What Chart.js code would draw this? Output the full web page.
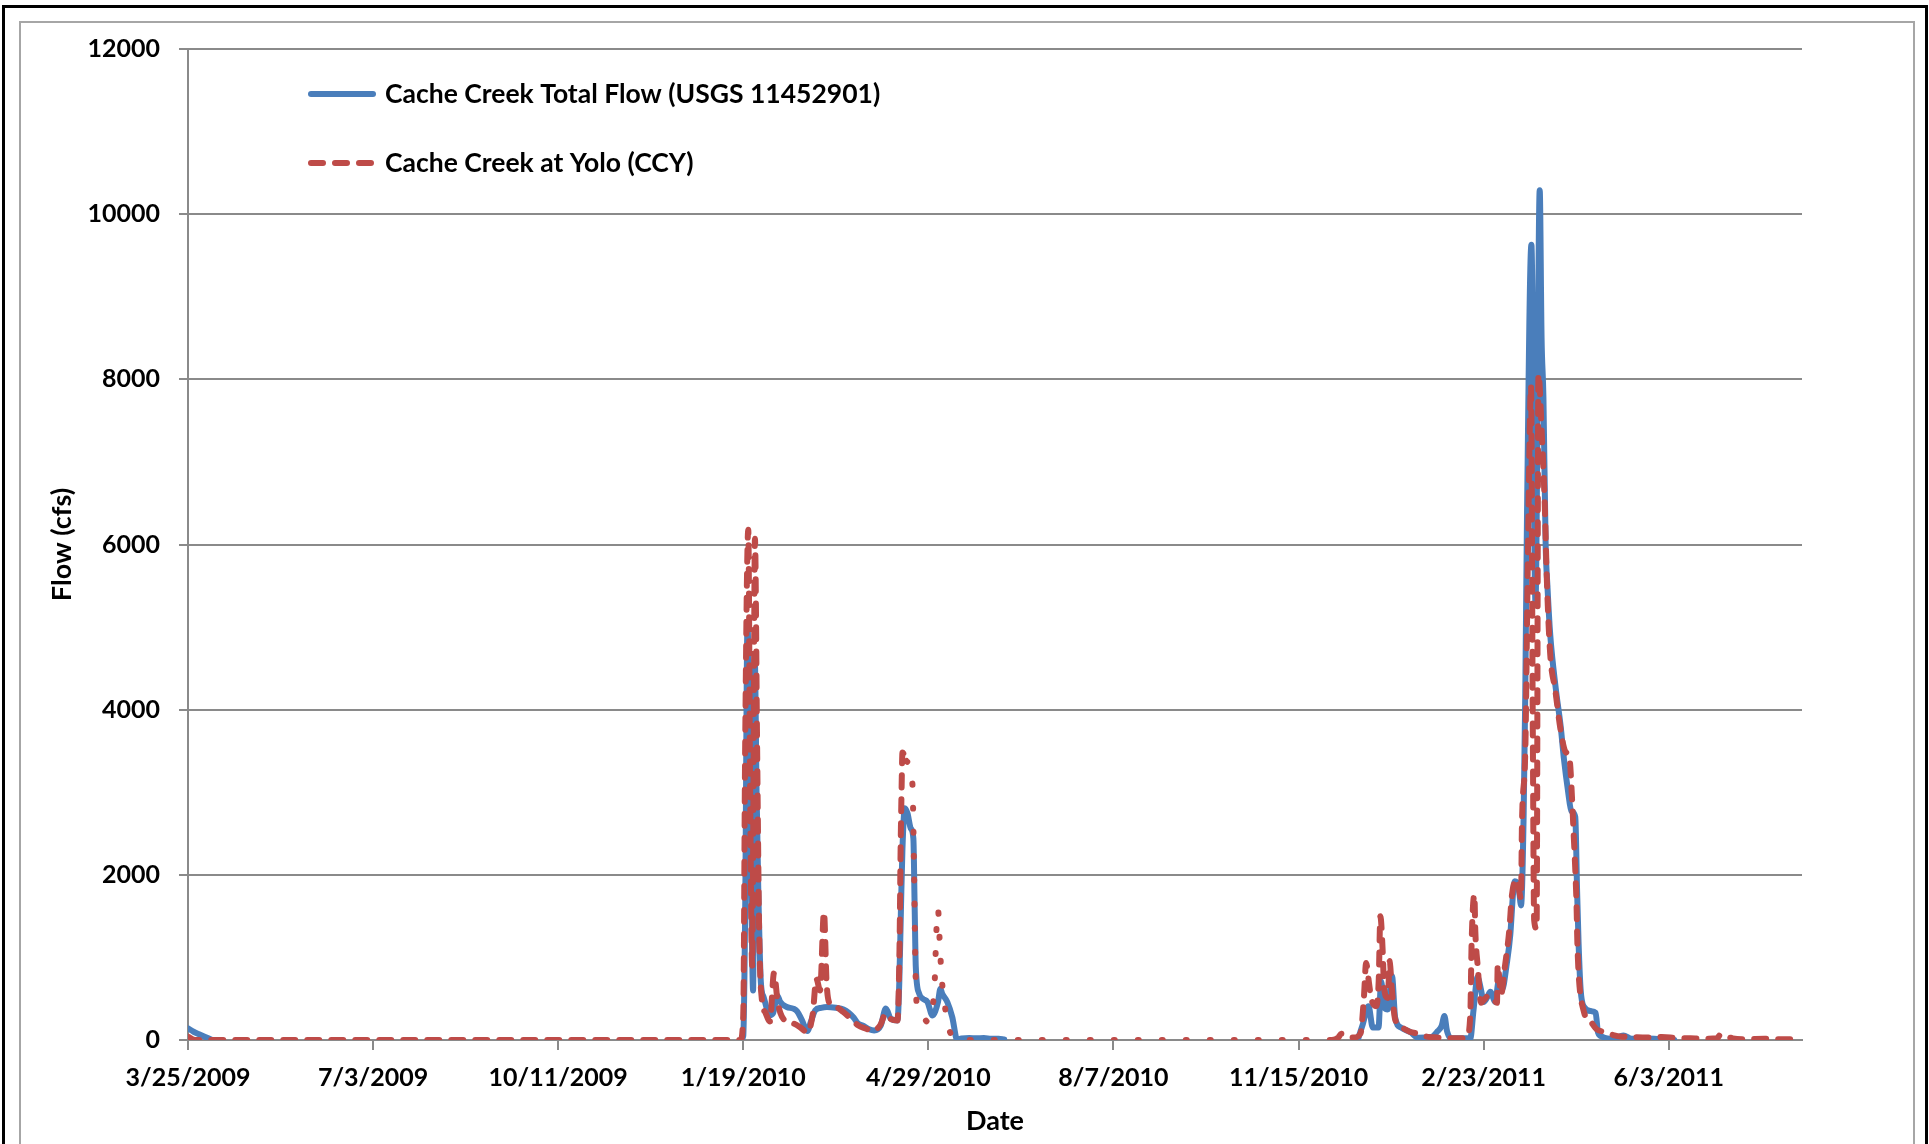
<!DOCTYPE html>
<html lang="en">
<head>
<meta charset="utf-8">
<title>Cache Creek Flow</title>
<script src="https://cdn.jsdelivr.net/npm/chart.js@4.4.1/dist/chart.umd.min.js"></script>
<style>
  html, body { margin: 0; padding: 0; background: #fff; overflow: hidden; }
  #wrap { position: relative; width: 1929px; height: 1144px; overflow: hidden; }
  #outerFrame { position: absolute; left: 2px; top: 5px; width: 1920px; height: 1300px; border: 3px solid #000; }
  #innerFrame { position: absolute; left: 19px; top: 21px; width: 1892px; height: 1300px; border: 2px solid #a6a6a6; }
  #chart { position: absolute; left: 0; top: 0; }
</style>
</head>
<body>
<div id="wrap">
  <div id="outerFrame"></div>
  <div id="innerFrame"></div>
  <canvas id="chart" width="1929" height="1144"></canvas>
</div>
<script>
// ==========================================
// DATA (x = days since 3/25/2009, y = flow in cfs)
// ==========================================
const xTickLabels = ['3/25/2009', '7/3/2009', '10/11/2009', '1/19/2010', '4/29/2010',
                     '8/7/2010', '11/15/2010', '2/23/2011', '6/3/2011'];

// Cache Creek Total Flow (USGS 11452901); null = no data
const usgsDays = [0, 3, 6, 9, 13, 14,
  298.5, 300, 301, 302.3, 303.3, 304.5, 305.3, 306.2, 307.2, 308.1, 309.5, 311, 314.4, 316, 318.4, 320,
  323.5, 327, 329, 331.5, 334.7, 336.5, 338.9, 342, 345.2, 350, 354.2, 357, 359.7, 362, 365, 368, 370.7,
  374.3, 377, 379.7, 383.3, 384.3, 385.2, 386, 387.3, 388.7, 390.5, 391.9, 392.6, 393.2, 395, 397, 399.5,
  402.2, 405.2, 406.5, 407.5, 410.2, 412.9, 415.6, 418, 422, 426, 430, 434, 438, 441, 441.5,
  632, 634.7, 637.8, 640.1, 643.2, 644.6, 646.4, 648.2, 650.5, 652.2, 655.4, 660.8, 664.4, 671.6, 675.2,
  677.3, 678.8, 680.2, 682.4, 692.8, 694.5, 696.7, 698.6, 700, 702, 703.6, 706.3, 708.1, 709.9, 712.6,
  714.4, 715.9, 716.8, 718.9, 720.2, 721.6, 722.5, 723.4, 725.8, 728, 730.3, 731.3, 732.3, 733.5, 734.5,
  736, 739, 741.6, 743.4, 745.5, 747.4, 749.5, 750.5, 751.3, 752.4, 754.2, 758, 760.5, 761.8, 764, 766.8,
  770, 775.5, 780, 786, 795, 803];
const usgsFlow = [140, 100, 70, 40, 0, null,
  0, 50, 1500, 5040, 3500, 1500, 600, 4610, 3000, 1840, 700, 520, 300, 320, 540, 460,
  400, 380, 350, 250, 110, 220, 360, 390, 400, 390, 370, 330, 270, 200, 170, 130, 115,
  175, 380, 257, 237, 700, 1600, 2317, 2807, 2746, 2562, 2440, 1600, 890, 563, 500, 461,
  298, 461, 620, 560, 461, 277, 0, 20, 25, 20, 25, 15, 15, 5, null,
  0, 190, 410, 150, 150, 712, 390, 370, 773, 270, 150, 90, 28, 36, 108,
  170, 290, 108, 20, 20, 355, 760, 606, 460, 520, 585, 460, 710, 606, 940,
  1275, 1777, 1923, 1860, 1630, 2700, 4200, 6300, 9630, 5300, 10290, 8500, 7780, 6000, 5480,
  4900, 4250, 3800, 3400, 3030, 2770, 2700, 1800, 1169, 612, 403, 350, 330, 90, 40, 20,
  15, 55, 15, 20, 10, 0];

// Cache Creek at Yolo (CCY)
const ccyDays = [0, 4, 298.5, 300, 301, 302.7, 303.7, 304.8, 305.5, 306.3, 307.5, 308.6, 310, 312, 314.4,
  316.6, 318.5, 320, 323.5, 327, 331, 334.7, 337.5, 339.5, 341.5, 343.6, 345, 346.5, 350, 354, 358, 362,
  366, 370, 374, 377, 380, 383.3, 384.4, 385, 385.5, 386, 388.2, 391.4, 392.3, 393, 393.7, 396.5, 399.8,
  402.3, 403.4, 404.3, 405.2, 406.3, 407.2, 408.4, 410.2, 415.6, 618, 621.5, 623, 626, 630, 633.5,
  635.3, 636.5, 638, 639.2, 641.9, 643.3, 644.2, 645.5, 646.2, 648.2, 649.3, 650.2, 652.2, 656, 660,
  666.2, 668, 675, 683, 688, 691, 692.8, 693.5, 695, 695.5, 696.8, 698.6, 700, 702.2, 704, 707.2, 707.6,
  709.4, 711.5, 713.8, 715.3, 718, 720.2, 720.7, 722.5, 724, 725.6, 726.5, 727.3, 728.6, 729.6, 731.5,
  733, 734.2, 736, 738.7, 741.4, 744, 746.5, 747.7, 748.6, 749.5, 750.2, 750.6, 751.4, 754, 758, 761,
  765, 770, 775, 780.8, 788, 796.2, 804, 811.7, 820, 826, 828, 831, 834.6, 842, 851.8, 860, 872];
const ccyFlow = [40, 0, 0, 300, 3500, 6180, 3000, 900, 3000, 6070, 3500, 1300, 500, 330, 225,
  810, 480, 330, 220, 200, 150, 90, 310, 740, 600, 1550, 700, 450, 400, 340, 260, 180,
  140, 110, 180, 320, 250, 237, 1100, 2300, 3000, 3480, 3378, 3093, 2000, 900, 432, 300, 216,
  400, 694, 1300, 1580, 1100, 750, 510, 216, 0, 0, 30, 75, 40, 30, 80,
  510, 933, 700, 510, 410, 712, 1497, 1054, 632, 510, 954, 672, 250, 150, 100,
  68, 48, 30, 20, 20, 40, 310, 1175, 1758, 1316, 893, 450, 480, 530, 530, 450, 905,
  550, 893, 1316, 1756, 1944, 1714, 2613, 3500, 6000, 7920, 4000, 1450, 1350, 8060, 7300,
  6500, 5540, 4660, 4240, 3780, 3500, 3386, 2950, 2510, 2070, 1630, 1210, 773, 355, 220, 130,
  100, 60, 40, 35, 30, 35, 25, 20, 15, 20, 65, 45, 20, 10, 15, 10, 10];

const xMax = 872;
const yMax = 12000;
const yStep = 2000;
const xStep = 100;

// ==========================================
// CHART
// ==========================================
const BLUE = '#4a7ebb';
const RED = '#be4b48';
const GRID = '#8a8a8a';
const FAMILY = 'Lato, "Open Sans", sans-serif';

Chart.defaults.font.family = FAMILY;
Chart.defaults.font.size = 25;
Chart.defaults.font.weight = 'bold';
Chart.defaults.color = '#000';

function toPoints(days, flow) {
    return days.map((d, i) => ({ x: d, y: flow[i] }));
}

// stretches where the CCY line shows as round dots instead of dashes
function dotted(x) {
    return x >= 387 && x < 618;
}

const legendPlugin = {
    id: 'insideLegend',
    afterDraw(chart) {
        const ctx = chart.ctx;
        const area = chart.chartArea;
        const rows = [chart.data.datasets[1], chart.data.datasets[0]];
        rows.forEach((ds, i) => {
            const y = area.top + 45 + i * 69;
            const x0 = area.left + 123;
            ctx.save();
            ctx.strokeStyle = ds.borderColor;
            ctx.lineWidth = ds.borderWidth;
            ctx.lineCap = 'round';
            ctx.setLineDash(ds.borderDash || []);
            ctx.beginPath();
            ctx.moveTo(x0, y);
            ctx.lineTo(x0 + 62, y);
            ctx.stroke();
            ctx.setLineDash([]);
            ctx.fillStyle = '#000';
            ctx.font = 'bold 26.5px ' + FAMILY;
            ctx.textBaseline = 'middle';
            ctx.fillText(ds.label, x0 + 74, y);
            ctx.restore();
        });
    }
};

new Chart(document.getElementById('chart'), {
    type: 'line',
    data: {
        datasets: [
            {
                label: 'Cache Creek at Yolo (CCY)',
                data: toPoints(ccyDays, ccyFlow),
                borderColor: RED,
                borderWidth: 6,
                borderDash: [12, 12],
                borderCapStyle: 'round',
                borderJoinStyle: 'round',
                cubicInterpolationMode: 'monotone',
                tension: 0.4,
                pointRadius: 0,
                order: 1,
                segment: {
                    borderDash: c => dotted(c.p0.parsed.x) ? [1, 23] : undefined
                }
            },
            {
                label: 'Cache Creek Total Flow (USGS 11452901)',
                data: toPoints(usgsDays, usgsFlow),
                borderColor: BLUE,
                borderWidth: 6,
                borderCapStyle: 'round',
                borderJoinStyle: 'round',
                cubicInterpolationMode: 'monotone',
                tension: 0.4,
                pointRadius: 0,
                order: 2
            }
        ]
    },
    options: {
        responsive: false,
        animation: false,
        events: [],
        layout: { padding: { left: 0, top: 49, right: 127, bottom: 0 } },
        plugins: {
            legend: { display: false },
            tooltip: { enabled: false }
        },
        scales: {
            x: {
                type: 'linear',
                min: 0,
                max: xMax,
                grid: { drawOnChartArea: false, drawTicks: true, tickLength: 10, color: GRID, lineWidth: 2 },
                border: { display: true, color: GRID, width: 2 },
                ticks: {
                    stepSize: xStep,
                    includeBounds: false,
                    autoSkip: false,
                    maxRotation: 0,
                    padding: 13,
                    callback: v => xTickLabels[Math.round(v / xStep)] || ''
                },
                title: { display: true, text: 'Date', font: { size: 27 }, padding: { top: 0, bottom: 7 } },
                afterFit: s => { s.height = 104; }
            },
            y: {
                min: 0,
                max: yMax,
                grid: { color: GRID, lineWidth: 2, tickLength: 9 },
                border: { display: true, color: GRID, width: 2 },
                ticks: {
                    stepSize: yStep,
                    padding: 19,
                    callback: v => String(v)
                },
                title: { display: true, text: 'Flow (cfs)', font: { size: 27 }, padding: { top: 46, bottom: 0 } },
                afterFit: s => { s.width = 188; }
            }
        }
    },
    plugins: [legendPlugin]
});
</script>
</body>
</html>
